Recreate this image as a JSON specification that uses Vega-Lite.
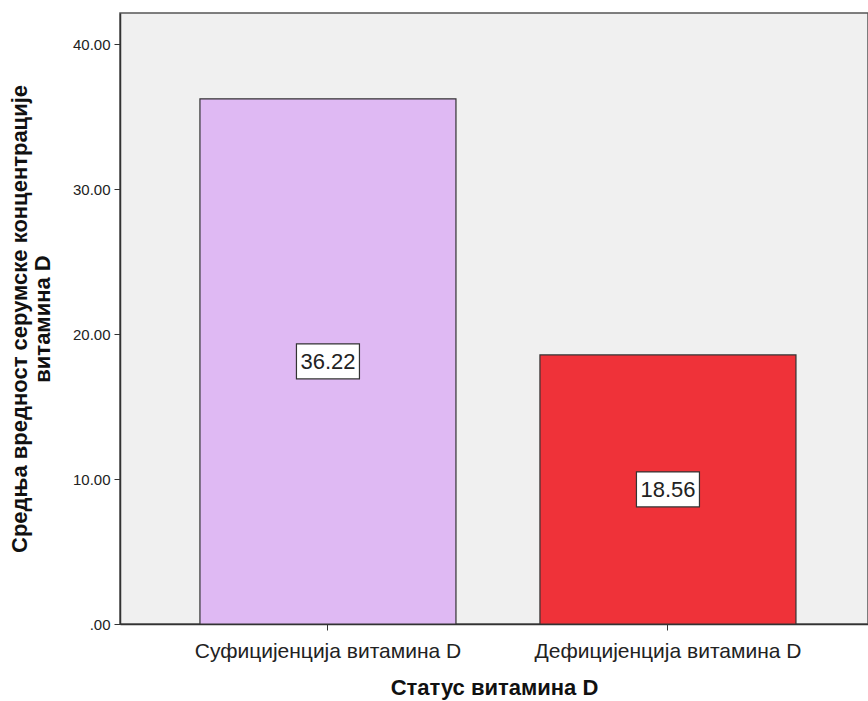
{
  "$schema": "https://vega.github.io/schema/vega-lite/v6.json",
  "autosize": {"type": "none"},
  "padding": {"left": 120, "top": 13, "right": 0, "bottom": 77},
  "width": 748,
  "height": 611,
  "background": "white",
  "config": {
    "font": "Liberation Sans",
    "view": {"fill": "#f0f0f0", "stroke": "#555555", "strokeWidth": 1.5}
  },
  "data": {
    "values": [
      {"status": "Суфицијенција витамина D", "value": 36.22},
      {"status": "Дефицијенција витамина  D", "value": 18.56}
    ]
  },
  "transform": [{"calculate": "datum.value / 2", "as": "mid"}],
  "encoding": {
    "x": {
      "field": "status",
      "type": "nominal",
      "sort": null,
      "scale": {"paddingInner": 0.247, "paddingOuter": 0.2235, "align": 0.526},
      "axis": {
        "title": "Статус витамина D",
        "titleFont": "Liberation Sans",
        "titleFontSize": 22,
        "titleFontWeight": "bold",
        "titleColor": "#111111",
        "titlePadding": 16,
        "labelAngle": 0,
        "labelFontSize": 21,
        "labelLimit": 500,
        "labelColor": "#222222",
        "labelPadding": 10,
        "tickColor": "#333333",
        "tickSize": 6,
        "domainColor": "#333333",
        "domainWidth": 1.5
      }
    }
  },
  "layer": [
    {
      "mark": {"type": "bar", "stroke": "#333333", "strokeWidth": 1.2},
      "encoding": {
        "y": {
          "field": "value",
          "type": "quantitative",
          "scale": {"domain": [0, 42.14], "nice": false},
          "axis": {
            "title": ["Средња вредност серумске концентрације", "витамина D"],
            "titleFontSize": 22,
            "titleFontWeight": "bold",
            "titleColor": "#111111",
            "titleLineHeight": 23,
            "titlePadding": 18,
            "values": [0, 10, 20, 30, 40],
            "labelExpr": "datum.value == 0 ? '.00' : format(datum.value, '.2f')",
            "labelFontSize": 15,
            "labelColor": "#222222",
            "labelPadding": 4,
            "tickColor": "#333333",
            "tickSize": 6,
            "domainColor": "#333333",
            "domainWidth": 1.5,
            "grid": false
          }
        },
        "fill": {
          "field": "status",
          "type": "nominal",
          "sort": null,
          "scale": {"range": ["#dfb9f3", "#ef3239"]},
          "legend": null
        }
      }
    },
    {
      "mark": {
        "type": "point",
        "shape": "M-1.8,-1L1.8,-1L1.8,1L-1.8,1Z",
        "size": 1225,
        "filled": true,
        "fill": "white",
        "stroke": "#333333",
        "strokeWidth": 1.2,
        "opacity": 1
      },
      "encoding": {
        "y": {"field": "mid", "type": "quantitative"}
      }
    },
    {
      "mark": {"type": "text", "fontSize": 22, "color": "#222222", "baseline": "middle", "align": "center", "dy": 1},
      "encoding": {
        "y": {"field": "mid", "type": "quantitative"},
        "text": {"field": "value", "type": "quantitative", "format": ".2f"}
      }
    }
  ]
}
